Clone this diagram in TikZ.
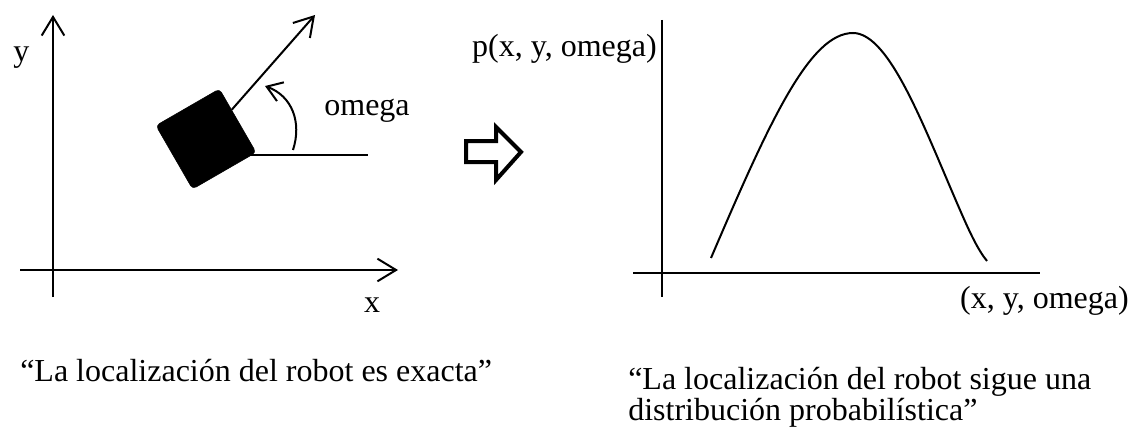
\documentclass[tikz,border=0pt]{standalone}
\usepackage{fontspec}
\setmainfont{Liberation Serif}
\usetikzlibrary{arrows.meta}
\tikzset{
  axis/.style={line width=1.5pt},
  barb/.style={-{Straight Barb[length=14pt,width=17pt,line width=1.5pt]}},
  lbl/.style={inner sep=0pt,font=\fontsize{24}{23}\selectfont},
}
\begin{document}
\begin{tikzpicture}[x=0.75pt,y=-0.75pt]
  \useasboundingbox (0,0) rectangle (1134,428);
  % left: exact pose
  \draw[axis,barb] (53,297) -- (53,15);
  \draw[axis,barb] (20,270) -- (398,270);
  \node[lbl,anchor=base west] (ylab) at (13,61) {y};
  \node[lbl,anchor=base] (xlab) at (372,312) {x};
  \node[draw,fill=black,rounded corners=3pt,rotate=30,minimum size=55pt,inner sep=0pt] (robot) at (206,139) {};
  \coordinate (head) at (315,15);
  \draw[axis,barb] (robot) -- (head);
  \coordinate (refA) at (242,155);
  \coordinate (refB) at (368,155);
  \draw[axis] (refA) -- (refB);
  \coordinate (omA) at (293,150);
  \coordinate (omB) at (265,86);
  \draw[axis,-{Straight Barb[length=11pt,width=15pt,line width=1.5pt]}] (omA) .. controls (302,122) and (292,96) .. (omB);
  \node[lbl,anchor=base] (omega) at (367,115) {omega};
  \node[lbl,anchor=base west] (capL) at (20,381) {“La localización del robot es exacta”};
  % hollow arrow
  \draw[line width=3pt,line join=miter] (466,141) -- (496,141) -- (496,127) -- (521,152) -- (496,180) -- (496,162) -- (466,162) -- cycle;
  % right: distribution
  \draw[axis] (662,20) -- (662,297);
  \draw[axis] (633,273) -- (1040,273);
  \draw[axis] (711,258) .. controls (770,120) and (810,33) .. (853,33)
    .. controls (890,33) and (925,130) .. (960,210)
    .. controls (970,233) and (978,250) .. (987,261);
  \node[lbl,anchor=base east] (plab) at (657,57) {p(x, y, omega)};
  \node[lbl,anchor=base east] (vlab) at (1129,308) {(x, y, omega)};
  \node[lbl,anchor=base west,align=left] (capR) at (628,420) {“La localización del robot sigue una\\distribución probabilística”};
\end{tikzpicture}
\end{document}
